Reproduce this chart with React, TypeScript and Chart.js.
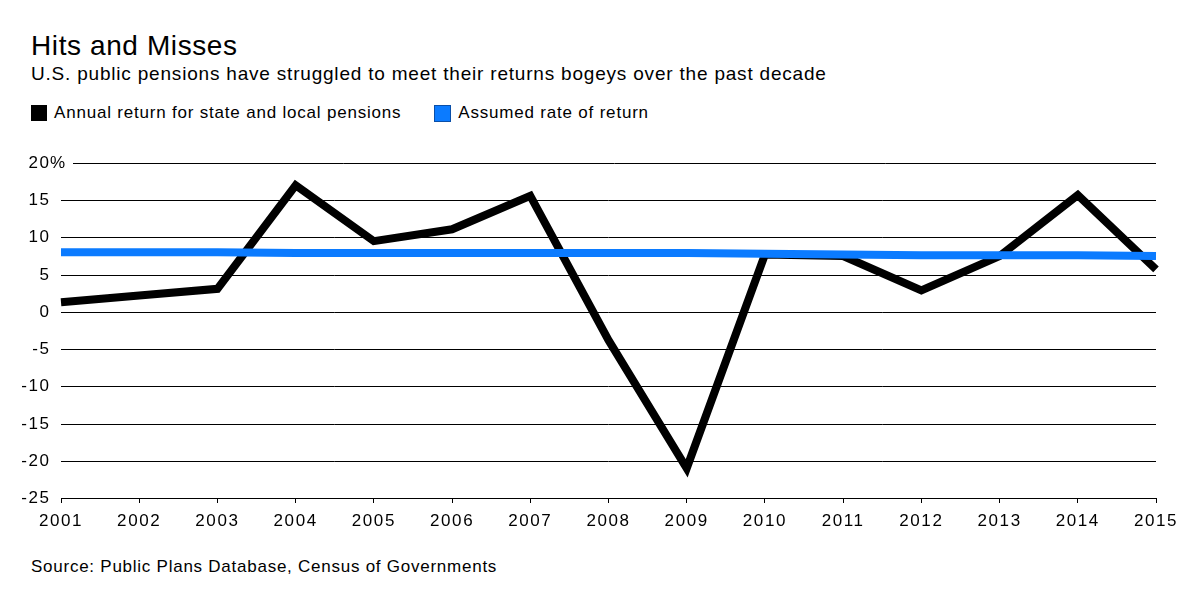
import React, { useEffect, useRef } from "react";
import { Chart, registerables } from "chart.js";

Chart.register(...registerables);

const years = ["2001","2002","2003","2004","2005","2006","2007","2008","2009","2010","2011","2012","2013","2014","2015"];
const annualReturn = [1.3, 2.2, 3.1, 17.0, 9.5, 11.1, 15.6, -3.8, -21.0, 7.7, 7.5, 2.9, 7.5, 15.7, 5.7];
const assumedRate = [8.0, 8.0, 8.0, 7.9, 7.9, 7.9, 7.9, 7.9, 7.9, 7.8, 7.7, 7.6, 7.6, 7.6, 7.5];
const yTicks = [20, 15, 10, 5, 0, -5, -10, -15, -20, -25];

const FONT = "'Liberation Sans', Arial, sans-serif";
const BLUE = "#0b7bff";
const LS = 1.6;

const spacing = {
  id: "spacing",
  beforeDraw(chart: any) {
    chart.ctx.letterSpacing = `${LS}px`;
  },
};

const gridAndLabels = {
  id: "gridAndLabels",
  beforeDatasetsDraw(chart: any) {
    const { ctx, chartArea, scales } = chart;
    const y = scales.y;
    ctx.save();
    ctx.strokeStyle = "#000";
    ctx.lineWidth = 1;
    ctx.fillStyle = "#000";
    ctx.font = `17px ${FONT}`;
    ctx.letterSpacing = `${LS}px`;
    ctx.textBaseline = "middle";
    for (const v of yTicks) {
      const py = Math.round(y.getPixelForValue(v)) + 0.5;
      const startX = v === 20 ? chartArea.left + 12 : chartArea.left;
      if (v !== -25) {
        ctx.beginPath();
        ctx.moveTo(startX, py);
        ctx.lineTo(chartArea.right, py);
        ctx.stroke();
      }
      const num = String(v);
      ctx.textAlign = "right";
      ctx.fillText(num, chartArea.left - 12 + LS, py);
      if (v === 20) {
        ctx.textAlign = "left";
        ctx.fillText("%", chartArea.left - 11, py);
      }
    }
    ctx.restore();
  },
};

export default function App() {
  const ref = useRef<HTMLCanvasElement | null>(null);
  useEffect(() => {
    document.body.style.margin = "0";
    const chart = new Chart(ref.current!, {
      type: "line",
      data: {
        labels: years,
        datasets: [
          {
            label: "Assumed rate of return",
            data: assumedRate,
            borderColor: BLUE,
            borderWidth: 8,
            pointRadius: 0,
            tension: 0,
            borderCapStyle: "butt",
            order: 0,
          },
          {
            label: "Annual return for state and local pensions",
            data: annualReturn,
            borderColor: "#000",
            borderWidth: 8,
            pointRadius: 0,
            tension: 0,
            borderJoinStyle: "miter",
            borderCapStyle: "butt",
            order: 1,
          },
        ],
      },
      options: {
        animation: false,
        responsive: false,
        devicePixelRatio: 1,
        layout: { padding: { top: 23, right: 44, left: 0, bottom: 0 } },
        plugins: { legend: { display: false }, tooltip: { enabled: false } },
        scales: {
          x: {
            offset: false,
            grid: { drawOnChartArea: false, drawTicks: true, tickLength: 5, color: "#000", tickColor: "#000" },
            border: { display: true, color: "#000", width: 1 },
            ticks: { color: "#000", font: { family: FONT, size: 17 }, padding: 8, maxRotation: 0, autoSkip: false },
            afterFit: (s: any) => { s.height = 42; },
          },
          y: {
            min: -25,
            max: 20,
            ticks: { display: false, stepSize: 5 },
            grid: { display: false },
            border: { display: false },
            afterFit: (s: any) => { s.width = 61; },
          },
        },
      },
      plugins: [spacing, gridAndLabels],
    });
    return () => chart.destroy();
  }, []);

  const text: React.CSSProperties = { position: "absolute", fontFamily: FONT, color: "#000", whiteSpace: "nowrap", margin: 0 };
  return (
    <div style={{ position: "relative", width: 1200, height: 611, background: "#fff", overflow: "hidden" }}>
      <div style={{ ...text, left: 31, top: 30, fontSize: 28, letterSpacing: 0.6 }}>Hits and Misses</div>
      <div style={{ ...text, left: 31, top: 63, fontSize: 19, letterSpacing: 0.8 }}>
        U.S. public pensions have struggled to meet their returns bogeys over the past decade
      </div>
      <div style={{ ...text, left: 31, top: 103, fontSize: 17, letterSpacing: 0.8, display: "flex", alignItems: "center" }}>
        <span style={{ display: "inline-block", width: 16, height: 16, background: "#000", marginRight: 7 }} />
        <span>Annual return for state and local pensions</span>
        <span style={{ display: "inline-block", width: 15, height: 15, background: BLUE, border: "0.5px solid #0a4fa8", marginLeft: 33, marginRight: 7 }} />
        <span>Assumed rate of return</span>
      </div>
      <canvas ref={ref} width={1200} height={400} style={{ position: "absolute", left: 0, top: 140, width: 1200, height: 400 }} />
      <div style={{ ...text, left: 31, top: 557, fontSize: 17, letterSpacing: 0.75 }}>
        Source: Public Plans Database, Census of Governments
      </div>
    </div>
  );
}
